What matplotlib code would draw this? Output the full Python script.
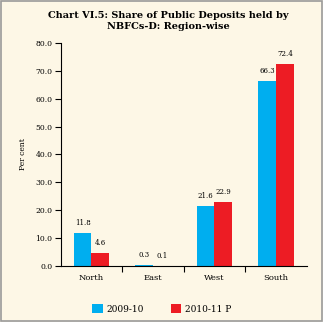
import matplotlib
matplotlib.use("Agg")
import matplotlib.pyplot as plt
import numpy as np

regions = ["North", "East", "West", "South"]
series_names = ["2009-10", "2010-11 P"]
v2009 = [11.8, 0.3, 21.6, 66.3]
v2010 = [4.6, 0.1, 22.9, 72.4]
yticks = [0, 10, 20, 30, 40, 50, 60, 70, 80]

bg = "#FDF7E6"
blue = "#00AEEF"
red = "#ED1C24"
plt.rcParams['font.family'] = ['DejaVu Serif']

fig = plt.figure(figsize=(3.23, 3.22), dpi=100, facecolor=bg)
ax = fig.add_axes([0.188, 0.174, 0.7616, 0.6925], facecolor=bg)

x = np.arange(len(regions))
w = 0.29
b1 = ax.bar(x - w/2, v2009, w, color=blue, label=series_names[0])
b2 = ax.bar(x + w/2, v2010, w, color=red, label=series_names[1])
for bars, vals in ((b1, v2009), (b2, v2010)):
    for rect, v in zip(bars, vals):
        ax.text(rect.get_x() + rect.get_width()/2, v + 2.2, f"{v:.1f}",
                ha="center", va="bottom", fontsize=5)

ax.set_xlim(-0.5, 3.5)
ax.set_ylim(0, 80)
ax.set_yticks(yticks)
ax.set_yticklabels([f"{t:.1f}" for t in yticks], fontsize=5.5)
ax.set_xticks([0.5, 1.5, 2.5])
ax.set_xticklabels([])
ax.set_xticks(x, minor=True)
ax.set_xticklabels(regions, minor=True, fontsize=6)
ax.tick_params(axis="x", which="minor", length=0, pad=6)
ax.tick_params(axis="x", which="major", length=4, width=0.8, direction="out")
ax.tick_params(axis="y", length=4, width=0.8, pad=2)
for s in ("top", "right"):
    ax.spines[s].set_visible(False)
ax.set_ylabel("Per cent", fontsize=5.5, labelpad=6)

fig.text(0.52, 0.965, "Chart VI.5: Share of Public Deposits held by\nNBFCs-D: Region-wise",
         ha="center", va="top", fontsize=7, fontweight="bold", linespacing=1.3)

ax.legend(loc="upper center", bbox_to_anchor=(0.41, -0.135), ncol=2, frameon=False,
          fontsize=6.5, handlelength=1.2, handleheight=1.2, columnspacing=3.0, handletextpad=0.4)

fig.patches.append(plt.Rectangle((0.002, 0.004), 0.996, 0.994, transform=fig.transFigure,
                                 fill=False, edgecolor="#9a9a9a", linewidth=1.2))
fig.savefig("out.png", dpi=100, facecolor=bg)
